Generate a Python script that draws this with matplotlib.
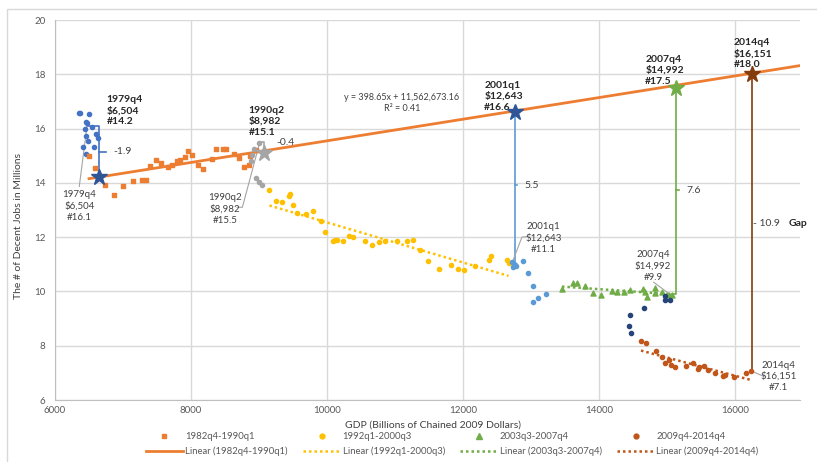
import numpy as np
import matplotlib.pyplot as plt
from matplotlib.patches import Rectangle

plt.rcParams['font.family'] = ['Lato', 'DejaVu Sans']

# 1979q4-1982q3 (no legend entry)
early_gdp = [6353, 6372, 6500, 6460, 6475, 6544, 6445, 6607, 6632, 6451, 6485, 6569, 6411, 6451]
early_jobs = [16.56, 16.59, 16.54, 16.23, 16.20, 16.07, 15.97, 15.80, 15.65, 15.74, 15.53, 15.33, 15.31, 15.06]

# 1982q4-1990q1
s1_gdp = [6500, 6588, 6735, 6868, 7005, 7152, 7279, 7343, 7397, 7485, 7559, 7667, 7716, 7794, 7838,
          7907, 7956, 8010, 8108, 8181, 8304, 8363, 8475, 8515, 8632, 8710, 8784, 8857, 8870, 8960]
s1_jobs = [14.99, 14.53, 13.93, 13.55, 13.90, 14.08, 14.11, 14.11, 14.61, 14.85, 14.72, 14.58, 14.67, 14.80, 14.85,
           14.95, 15.17, 15.01, 14.64, 14.52, 14.88, 15.23, 15.26, 15.26, 15.05, 14.91, 14.57, 14.64, 15.00, 15.20]

# 1990q2-1991q4 (no legend entry)
gray_gdp = [9005, 8930, 8890, 8875, 8956, 9005, 9040]
gray_jobs = [15.47, 15.26, 15.01, 14.81, 14.19, 14.03, 13.91]

# 1992q1-2000q3
s2_gdp = [9152, 9250, 9334, 9441, 9456, 9505, 9563, 9691, 9790, 9912, 9971, 10084, 10118, 10152, 10240,
          10324, 10378, 10559, 10662, 10769, 10857, 11025, 11172, 11255, 11368, 11481, 11637, 11819,
          11922, 12015, 12177, 12382, 12407, 12643, 12666]
s2_jobs = [13.75, 13.35, 13.31, 13.50, 13.60, 13.20, 12.88, 12.86, 12.96, 12.58, 12.20, 11.87, 11.90, 11.91, 11.87,
           12.06, 12.02, 11.87, 11.70, 11.81, 11.87, 11.84, 11.84, 11.91, 11.51, 11.11, 10.83, 10.98,
           10.83, 10.80, 10.93, 11.14, 11.32, 11.16, 11.05]

# 2000q4-2003q2 (no legend entry)
lb_gdp = [12716, 12740, 12765, 12731, 12775, 12877, 12946, 13019, 13019, 13093, 13216]
lb_jobs = [11.10, 11.01, 10.99, 10.89, 10.93, 11.11, 10.67, 10.21, 9.62, 9.74, 9.91]

# 2003q3-2007q4
s3_gdp = [13451, 13608, 13672, 13794, 13902, 14029, 14187, 14260, 14368, 14456, 14643, 14677, 14701,
          14813, 14813, 14922, 15020, 15069]
s3_jobs = [10.09, 10.30, 10.32, 10.21, 9.94, 9.87, 10.00, 9.98, 9.97, 10.07, 10.10, 9.98, 9.78,
           10.11, 9.96, 9.97, 9.87, 9.87]

# 2008q1-2009q3 (no legend entry)
navy_gdp = [14971, 15044, 14971, 14662, 14446, 14431, 14471]
navy_jobs = [9.85, 9.69, 9.70, 9.38, 9.14, 8.74, 8.47]

# 2009q4-2014q4
s4_gdp = [14613, 14687, 14834, 14922, 14971, 15020, 15059, 15108, 15280, 15378, 15446, 15461, 15544,
          15593, 15696, 15814, 15843, 15985, 16157, 16235]
s4_jobs = [8.16, 8.11, 7.80, 7.57, 7.38, 7.49, 7.30, 7.20, 7.27, 7.37, 7.16, 7.23, 7.26,
           7.10, 7.00, 6.87, 6.92, 6.83, 7.00, 7.08]

# trend of 1982q4-1990q1 (from the chart's equation, jobs per billion)
trend_slope = 398.65
trend_icpt = 11562673.16

# stars on the trend line: quarter, gdp label, jobs
star_names = ['1979q4', '1990q2', '2001q1', '2007q4', '2014q4']
star_gdp_lbl = ['$6,504', '$8,982', '$12,643', '$14,992', '$16,151']
star_gdp = [6640, 9075, 12765, 15128, 16245]
star_jobs = [14.2, 15.1, 16.6, 17.5, 18.0]
star_colors = ['#2F5597', '#A5A5A5', '#2F5597', '#70AD47', '#843C0C']

# actual values at the same quarters
act_gdp = [6475, 9005, 12731, 15069, 16235]
act_jobs = [16.1, 15.5, 11.1, 9.9, 7.1]
gaps = ['-1.9', '-0.4', '5.5', '7.6', '10.9']

fig = plt.figure(figsize=(8.17, 4.62), dpi=100)
ax = fig.add_axes([55 / 817, 62 / 462, 745 / 817, 380 / 462])

fig.patches.append(Rectangle((7 / 817, -0.1), 1.2, (462 - 9) / 462 + 0.1, transform=fig.transFigure,
                             fill=False, edgecolor='#D9D9D9', lw=1))

ms = 9
ax.scatter(early_gdp, early_jobs, s=ms, color='#4472C4', zorder=3)
ax.scatter(s1_gdp, s1_jobs, s=ms, marker='s', color='#ED7D31', zorder=3)
ax.scatter(gray_gdp, gray_jobs, s=ms, color='#A5A5A5', zorder=3)
ax.scatter(s2_gdp, s2_jobs, s=ms, color='#FFC000', zorder=3)
ax.scatter(lb_gdp, lb_jobs, s=ms, color='#5B9BD5', zorder=3)
ax.scatter(s3_gdp, s3_jobs, s=ms + 4, marker='^', color='#70AD47', zorder=3)
ax.scatter(navy_gdp, navy_jobs, s=ms, color='#264478', zorder=3)
ax.scatter(s4_gdp, s4_jobs, s=ms, color='#C0561A', zorder=3)

# trend lines
xt = np.array([min(s1_gdp), 16950])
ax.plot(xt, (trend_slope * xt + trend_icpt) / 1e6, color='#ED7D31', lw=2, zorder=2)
dots = (0, (1, 1.2))
for gx, gy, col in [(s2_gdp, s2_jobs, '#FFC000'), (s3_gdp, s3_jobs, '#70AD47'), (s4_gdp, s4_jobs, '#C0561A')]:
    k, b = np.polyfit(gx, gy, 1)
    xx = np.array([min(gx), max(gx)])
    ax.plot(xx, k * xx + b, color=col, lw=1.8, ls=dots, zorder=2)

ax.text(11098, 17.16, 'y = 398.65x + 11,562,673.16', fontsize=6.5, color='#404040', ha='center', va='center')
ax.text(11098, 16.73, 'R² = 0.41', fontsize=6.5, color='#404040', ha='center', va='center')

# gap brackets
line_cols = ['#4472C4', '#A5A5A5', '#5B9BD5', '#70AD47', '#843C0C']
for i in range(5):
    c = line_cols[i]
    ax.plot([act_gdp[i], star_gdp[i], star_gdp[i]], [act_jobs[i], act_jobs[i], star_jobs[i]],
            color=c, lw=1.2, zorder=2)
    ax.plot(star_gdp[i], star_jobs[i], marker='*', ms=12, color=star_colors[i],
            mec=star_colors[i], zorder=5)

mid = [(a + b) / 2 for a, b in zip(act_jobs, star_jobs)]
ax.plot([star_gdp[0], star_gdp[0] + 110], [mid[0], mid[0]], color=line_cols[0], lw=1.2)
ax.text(6853, mid[0], gaps[0], fontsize=7.5, color='#404040', va='center')
ax.text(9250, 15.47, gaps[1], fontsize=7.5, color='#404040', va='center')
ax.plot([star_gdp[2], star_gdp[2] + 30], [13.92, 13.92], color=line_cols[2], lw=1.2)
ax.text(12897, 13.92, gaps[2], fontsize=7.5, color='#404040', va='center')
ax.plot([star_gdp[3], star_gdp[3] + 40], [13.72, 13.72], color=line_cols[3], lw=1.2)
ax.text(15280, 13.72, gaps[3], fontsize=7.5, color='#404040', va='center')
ax.text(16265, 12.5, '- ' + gaps[4], fontsize=7.5, color='#404040', va='center')
ax.text(16780, 12.5, 'Gap', fontsize=7.5, color='#262626', va='center', fontweight='bold')

# bold labels for the trend stars
bold_pos = [(6760, 16.65), (8843, 16.27), (12309, 17.19), (14676, 18.15), (15975, 18.76)]
for i, (bx, by) in enumerate(bold_pos):
    ax.text(bx, by, f'{star_names[i]}\n{star_gdp_lbl[i]}\n#{star_jobs[i]:.1f}', fontsize=7.5,
            fontweight='bold', color='#262626', va='center', ha='left', linespacing=1.25)

# plain labels for actual values
lab_pos = [(6357, 13.15), (8500, 13.04), (13181, 11.96), (14790, 10.93), (16637, 6.87)]
leaders = [
    ([6357, 6475], [13.87, 16.18]),
    ([8676, 8754, 9004], [13.10, 13.10, 15.44]),
    ([12937, 12863, 12731], [12.02, 12.0, 11.14]),
    ([14799, 15030], [10.34, 9.91]),
    ([16416, 16254], [6.87, 7.05]),
]
for i, (lx, ly) in enumerate(lab_pos):
    ax.text(lx, ly, f'{star_names[i]}\n{star_gdp_lbl[i]}\n#{act_jobs[i]:.1f}', fontsize=7,
            color='#404040', va='center', ha='center', linespacing=1.3)
    ax.plot(leaders[i][0], leaders[i][1], color='#A5A5A5', lw=0.8, zorder=2)

ax.set_xlim(6000, 16950)
ax.set_ylim(6, 20)
ax.set_xticks(np.arange(6000, 16001, 2000))
ax.set_yticks(np.arange(6, 21, 2))
ax.grid(True, color='#D9D9D9', lw=1)
ax.set_axisbelow(True)
for s in ['top', 'right']:
    ax.spines[s].set_visible(False)
for s in ['left', 'bottom']:
    ax.spines[s].set_color('#BFBFBF')
ax.tick_params(length=0, labelsize=7, labelcolor='#595959')
ax.tick_params(axis='y', pad=7)
ax.tick_params(axis='x', pad=4)

ax.set_xlabel('GDP (Billions of Chained 2009 Dollars)', fontsize=7.5, color='#404040')
ax.xaxis.set_label_coords(0.507, -0.055)
ax.set_ylabel('The # of Decent Jobs in Millions', fontsize=7.5, color='#404040')
ax.yaxis.set_label_coords(-0.043, 0.458)

# legend
h = [
    plt.Line2D([], [], ls='none', marker='s', ms=3.5, color='#ED7D31'),
    plt.Line2D([], [], color='#ED7D31', lw=2),
    plt.Line2D([], [], ls='none', marker='o', ms=3.5, color='#FFC000'),
    plt.Line2D([], [], color='#FFC000', lw=1.8, ls=dots),
    plt.Line2D([], [], ls='none', marker='^', ms=4, color='#70AD47'),
    plt.Line2D([], [], color='#70AD47', lw=1.8, ls=dots),
    plt.Line2D([], [], ls='none', marker='o', ms=3.5, color='#C0561A'),
    plt.Line2D([], [], color='#C0561A', lw=1.8, ls=dots),
]
labels = ['1982q4-1990q1', 'Linear (1982q4-1990q1)', '1992q1-2000q3', 'Linear (1992q1-2000q3)',
          '2003q3-2007q4', 'Linear (2003q3-2007q4)', '2009q4-2014q4', 'Linear (2009q4-2014q4)']
fig.legend(h, labels, ncol=4, loc='center', bbox_to_anchor=(452 / 817, 1 - 444 / 462), frameon=False,
           fontsize=6.8, labelcolor='#595959', handlelength=4.0, columnspacing=1.6, handletextpad=0.2,
           labelspacing=0.55)

fig.savefig('out.png', dpi=100)
